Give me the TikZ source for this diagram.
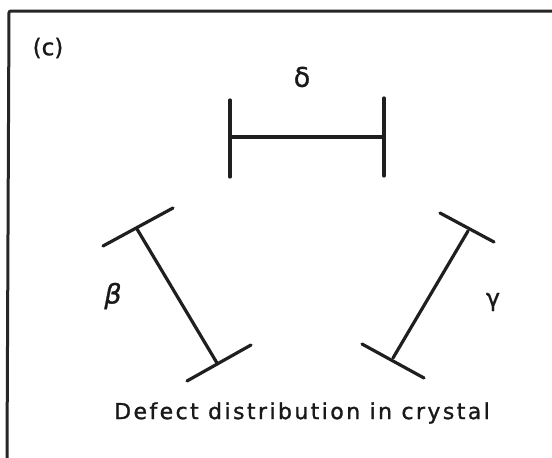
\documentclass[tikz,border=0pt]{standalone}
\usepackage{fontspec}
\setmainfont[FakeBold=1]{DejaVu Sans}
\newfontfamily\lblfont[LetterSpace=11,FakeBold=1.2]{DejaVu Sans}
\newfontfamily\grkfont[FakeBold=1]{DejaVu Sans}
\begin{document}
\begin{tikzpicture}[x=1pt,y=-1pt,
  bar/.style={line width=3.2pt,line cap=round,black!88},
  frameline/.style={line width=3pt,black!85},
  lbl/.style={inner sep=0pt,text=black!90}]
\useasboundingbox (0,0) rectangle (552,458);
% frame
\draw[frameline,rounded corners=2pt] (552,11) -- (9,11) -- (7,458);
% label (c)
\node[lbl,font=\grkfont\fontsize{23}{23}\selectfont] (c) at (48,48) {(c)};
% delta bar
\coordinate (dL1) at (230,100); \coordinate (dL2) at (230,177);
\coordinate (dR1) at (384,98);  \coordinate (dR2) at (384,176);
\coordinate (dLm) at (230,137); \coordinate (dRm) at (384,137);
\draw[bar] (dL1) -- (dL2);
\draw[bar] (dR1) -- (dR2);
\draw[bar] (dLm) -- (dRm);
\node[lbl,font=\grkfont\fontsize{27}{27}\selectfont] (delta) at (302,77) {δ};
% beta bar
\coordinate (bT1) at (103,246); \coordinate (bT2) at (173,208);
\coordinate (bTm) at (137,229); \coordinate (bBm) at (217,363);
\coordinate (bB1) at (187,381); \coordinate (bB2) at (251,345);
\draw[bar] (bT1) -- (bT2);
\draw[bar] (bTm) -- (bBm);
\draw[bar] (bB1) -- (bB2);
\node[lbl,font=\grkfont\itshape\fontsize{27}{27}\selectfont] (beta) at (113,296) {β};
% gamma bar
\coordinate (gT1) at (440,213); \coordinate (gT2) at (494,242);
\coordinate (gTm) at (468,231); \coordinate (gBm) at (393,358);
\coordinate (gB1) at (362,344); \coordinate (gB2) at (424,378);
\draw[bar] (gT1) -- (gT2);
\draw[bar] (gTm) -- (gBm);
\draw[bar] (gB1) -- (gB2);
\node[lbl,font=\grkfont\fontsize{24}{24}\selectfont] (gamma) at (493,302) {γ};
% caption
\node[lbl,font=\lblfont\fontsize{22}{22}\selectfont] (cap) at (302,413) {Defect distribution in crystal};
\end{tikzpicture}
\end{document}
